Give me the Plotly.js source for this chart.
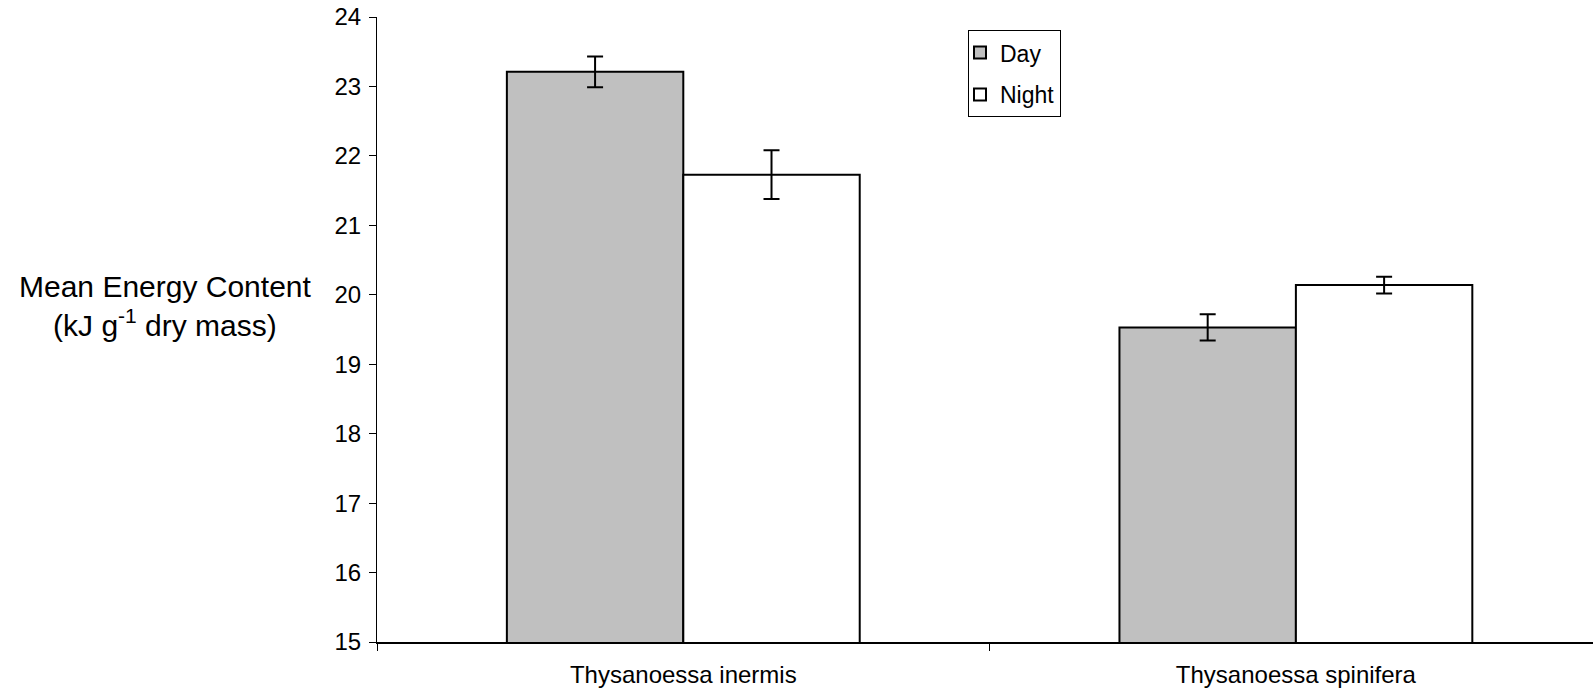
<!DOCTYPE html>
<html>
<head>
<meta charset="utf-8">
<script src="https://cdn.plot.ly/plotly-3.0.1.min.js"></script>
<style>
  html, body { margin: 0; padding: 0; background: #ffffff; }
  #chart { width: 1593px; height: 694px; }
</style>
</head>
<body>
<div id="chart"></div>
<script>
// Species compared
const species = ["Thysanoessa inermis", "Thysanoessa spinifera"];

// Mean energy content (kJ per g dry mass) and standard errors
const dayMean = [23.21, 19.53];
const dayErr = [0.22, 0.19];
const nightMean = [21.73, 20.14];
const nightErr = [0.35, 0.12];

const yTicks = [15, 16, 17, 18, 19, 20, 21, 22, 23, 24];

const FONT = "Liberation Sans, Arial, sans-serif";

const errStyle = { type: "data", visible: true, color: "#000000", thickness: 2, width: 8 };

const traces = [
  {
    type: "bar",
    name: "Day",
    legendgroup: "day",
    x: species,
    y: dayMean,
    error_y: Object.assign({ array: dayErr }, errStyle),
    marker: { color: "#c0c0c0", line: { color: "#000000", width: 2 } },
    hoverinfo: "x+y"
  },
  {
    type: "bar",
    name: "Night",
    legendgroup: "night",
    x: species,
    y: nightMean,
    error_y: Object.assign({ array: nightErr }, errStyle),
    marker: { color: "#ffffff", line: { color: "#000000", width: 2 } },
    hoverinfo: "x+y"
  }
];

const layout = {
  width: 1593,
  height: 694,
  paper_bgcolor: "#ffffff",
  plot_bgcolor: "#ffffff",
  margin: { l: 377, r: 0, t: 17, b: 52, pad: 0 },
  barmode: "group",
  bargap: 0.424,
  bargroupgap: 0,
  font: { family: FONT, color: "#000000", size: 22 },
  showlegend: true,
  legend: {
    x: 0.486, y: 0.979, xanchor: "left", yanchor: "top",
    bgcolor: "#ffffff",
    bordercolor: "#000000",
    borderwidth: 1,
    tracegroupgap: 9,
    indentation: -9,
    font: { family: FONT, size: 23, color: "#000000" }
  },
  xaxis: {
    type: "category",
    range: [-0.5, 1.485],
    showline: true,
    linecolor: "#000000",
    linewidth: 1.5,
    ticks: "outside",
    tickson: "boundaries",
    ticklen: 7,
    tickcolor: "#000000",
    tickwidth: 1,
    ticklabelstandoff: 11,
    showgrid: false,
    zeroline: false,
    tickfont: { family: FONT, size: 24, color: "#000000" }
  },
  yaxis: {
    range: [15, 24],
    tickvals: yTicks,
    ticktext: yTicks.map(String),
    showline: true,
    linecolor: "#000000",
    linewidth: 1,
    ticks: "outside",
    ticklen: 7,
    tickcolor: "#000000",
    tickwidth: 1,
    ticklabelstandoff: 3,
    showgrid: false,
    zeroline: false,
    tickfont: { family: FONT, size: 24, color: "#000000" }
  },
  annotations: [
    {
      xref: "paper", yref: "paper",
      x: -0.174, y: 0.537,
      xanchor: "center", yanchor: "middle",
      showarrow: false,
      align: "center",
      text: "Mean Energy Content<br>(kJ g<sup>-1</sup> dry mass)",
      font: { family: FONT, size: 30, color: "#000000" }
    }
  ]
};

Plotly.newPlot("chart", traces, layout, { displayModeBar: false, staticPlot: true });
</script>
</body>
</html>
